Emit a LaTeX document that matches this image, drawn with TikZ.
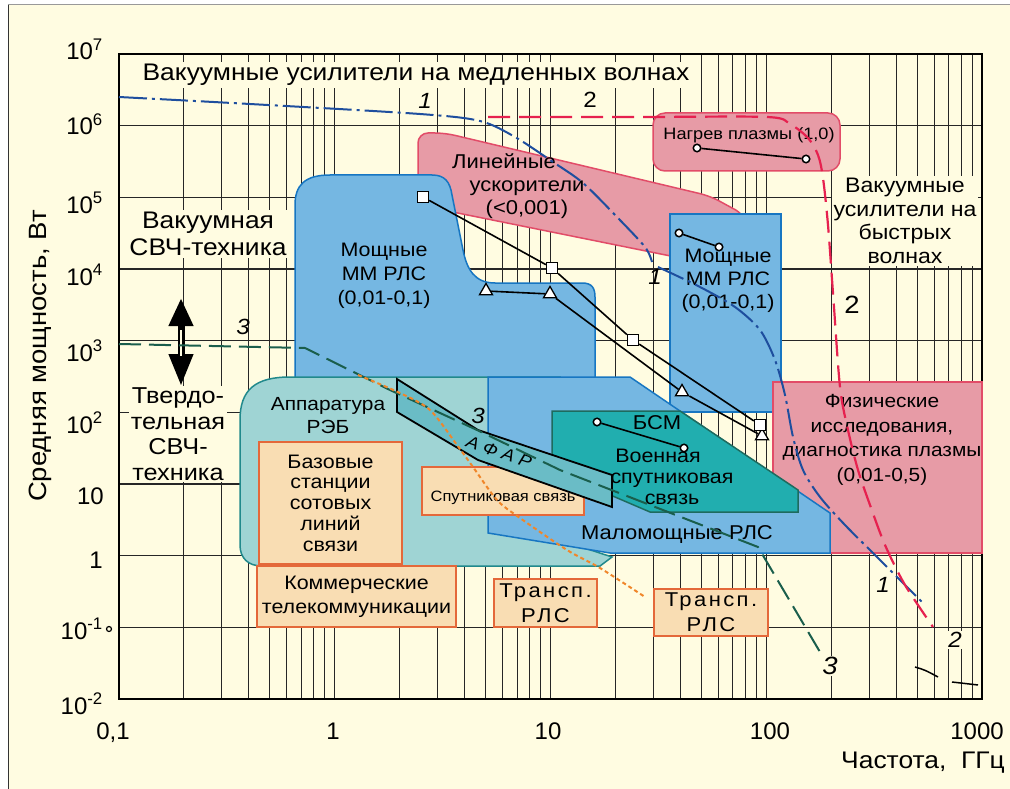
\documentclass[tikz,border=0pt]{standalone}
\usepackage{fontspec}
\setmainfont{Liberation Sans}[FakeStretch=1.1]
\newfontfamily\numfont{Liberation Sans}
\newfontfamily\spacedfont[LetterSpace=12,FakeStretch=1.1]{Liberation Sans}
\usetikzlibrary{arrows.meta,shapes.geometric}

\definecolor{paper}{HTML}{FFFCE1}
\definecolor{pinkfill}{HTML}{E79BA6}
\definecolor{pinkline}{HTML}{E24C68}
\definecolor{bluefill}{HTML}{75B7E2}
\definecolor{blueline}{HTML}{1776C2}
\definecolor{rebfill}{HTML}{9FD4D4}
\definecolor{rebline}{HTML}{21898C}
\definecolor{bsmfill}{HTML}{21AEAF}
\definecolor{bsmline}{HTML}{1E6B5E}
\definecolor{afarfill}{HTML}{6ABCC6}
\definecolor{boxfill}{HTML}{F9DDB3}
\definecolor{boxline}{HTML}{E4683A}
\definecolor{curveone}{HTML}{1E4E9E}
\definecolor{curvetwo}{HTML}{E6214F}
\definecolor{curvethree}{HTML}{1A5E4C}
\definecolor{dotorange}{HTML}{F0862A}

\newcommand\fsz[2]{\fontsize{#1}{#2}\selectfont}

\begin{document}
\begin{tikzpicture}[x=1pt,y=-1pt,
    gridline/.style={black!85,line width=1.1pt},
    ticklab/.style={anchor=base east,font=\numfont\fsz{24}{26},inner sep=0pt},
    flab/.style={anchor=base,font=\numfont\fsz{24}{26},inner sep=0pt},
    note/.style={fill=paper,inner sep=2pt,align=center},
    zonetext/.style={align=center,inner sep=0pt},
    pinkzone/.style={fill=pinkfill,draw=pinkline,line width=1.5pt},
    bluezone/.style={fill=bluefill,draw=blueline,line width=1.5pt},
    tagbox/.style={fill=boxfill,draw=boxline,line width=2pt,align=center,inner sep=0pt},
    sqmark/.style={draw,fill=white,line width=1.3pt,minimum size=11pt,inner sep=0pt},
    trimark/.style={draw,fill=white,line width=1.3pt,regular polygon,regular polygon sides=3,minimum size=15pt,inner sep=0pt},
    dotmark/.style={circle,draw,fill=white,line width=1.5pt,minimum size=7.5pt,inner sep=0pt},
    markline/.style={line width=1.6pt},
    curvelab/.style={font=\fsz{22}{24}\itshape,inner sep=1pt},
  ]
\useasboundingbox (0,0) rectangle (1010,789);
\fill[paper] (8,5) rectangle (1010,789);
\draw[black!40,line width=1pt] (8,5) -- (1010,5);
\draw[black!80,line width=1pt] (8,5) -- (8,789);

% grid
\foreach \d in {0,1,2,3} {
  \foreach \m in {2,...,9}
    \draw[gridline] ({119+215.75*(\d+log10(\m))},54) -- ++(0,645);
  \draw[gridline] ({119+215.75*\d},54) -- ++(0,645);
}
\foreach \k in {1,...,8}
  \draw[gridline] (119,{54+71.67*\k}) -- (982,{54+71.67*\k});
\draw[line width=1.4pt] (119,54) rectangle (982,699);

% zones
\draw[pinkzone,rounded corners=10pt] (418,205) -- (418,133) -- (445,133) -- (710,196) -- (745,215) -- (745,271) -- cycle;
\draw[bluezone] (295,385) -- (295,205) .. controls (295,185) and (305,175) .. (330,175) -- (432,175)
  .. controls (445,175) and (450,182) .. (452,195) -- (463,250) .. controls (467,270) and (475,283) .. (495,283)
  -- (582,283) .. controls (592,283) and (595,288) .. (595,297) -- (595,385) -- cycle;
\draw[fill=rebfill,draw=rebline,line width=1.5pt] (240,420) .. controls (240,390) and (255,377) .. (290,377)
  -- (560,377) -- (560,540) -- (612,557) -- (600,566) -- (262,566) .. controls (248,566) and (240,558) .. (240,545) -- cycle;
\draw[bluezone] (670,214) rectangle (781,412);
\draw[pinkzone] (773,382) rectangle (982,553);
\draw[pinkzone,rounded corners=12pt] (653,113) rectangle (840,171);
\draw[bluezone] (488,377) -- (630,377) -- (830,513) -- (830,553) -- (610,553) -- (488,533) -- cycle;
\draw[fill=bsmfill,draw=bsmline,line width=1.5pt] (552,411) -- (680,411) -- (798,490) -- (798,512) -- (650,512) -- (552,470) -- cycle;

% boxes
\node[tagbox,minimum width=143pt,minimum height=122pt,font=\fsz{19.5}{20.7}] (bbase) at (330.5,503) {Базовые\\станции\\сотовых\\линий\\связи};
\node[tagbox,minimum width=199pt,minimum height=61pt,font=\fsz{19.5}{24}] (bcomm) at (356.5,596.5) {Коммерческие\\телекоммуникации};
\node[tagbox,minimum width=162pt,minimum height=48pt] (bsat) at (503,491) {};
\node[font=\fsz{15}{17},inner sep=0pt] (tsat) at (503,498) {Спутниковая связь};
\draw[fill=afarfill,line width=1.8pt] (397,379) -- (478,430) -- (612,475) -- (612,507) -- (478,460) -- (397,412) -- cycle;
\node[font=\fsz{17}{19}\itshape,rotate=-19,inner sep=0pt] (tafar) at (499,452) {А Ф А Р};
\node[tagbox,minimum width=103pt,minimum height=48pt,font=\spacedfont\fsz{20}{25}] (btr1) at (545.5,603) {Трансп.\\РЛС};
\node[tagbox,minimum width=114pt,minimum height=47pt,font=\spacedfont\fsz{20}{25}] (btr2) at (711,612.5) {Трансп.\\РЛС};

% labels
\node[note,font=\fsz{24}{26}] (tslow) at (416,75) {Вакуумные усилители на медленных волнах};
\node[note,font=\fsz{24}{27}] (tvac) at (208,234) {Вакуумная\\СВЧ-техника};
\node[note,font=\fsz{23}{25.5}] (tsolid) at (178,434) {Твердо-\\тельная\\СВЧ-\\техника};
\node[note,font=\fsz{21}{23.7}] (tfast) at (905,221) {Вакуумные\\усилители на\\быстрых\\волнах};
\node[zonetext,font=\fsz{20}{23}] (tlin) at (527,186) {\hspace*{-46pt}Линейные\\ускорители\\(<0,001)};
\node[zonetext,font=\fsz{19.5}{24}] (tmmw1) at (384,276) {Мощные\\ММ РЛС\\(0,01-0,1)};
\node[zonetext,font=\fsz{19.5}{23}] (tmmw2) at (728,281) {Мощные\\ММ РЛС\\(0,01-0,1)};
\node[zonetext,font=\fsz{16.5}{18}] (theat) at (749,135) {Нагрев плазмы (1,0)};
\node[zonetext,font=\fsz{19}{24.5}] (tphys) at (882,440) {Физические\\исследования,\\диагностика плазмы\\(0,01-0,5)};
\node[zonetext,font=\fsz{20}{22}] (tlow) at (677,535) {Маломощные РЛС};
\node[zonetext,font=\fsz{19}{23}] (treb) at (328,416) {Аппаратура\\РЭБ};
\node[zonetext,font=\fsz{20}{22}] (tbsm) at (657,423) {БСМ};
\node[zonetext,font=\fsz{19.5}{21}] (tmil) at (672,477) {\hspace*{-28pt}Военная\\спутниковая\hspace*{-32pt}\\связь};

% axes
\foreach \e/\yc in {7/51,6/126,5/204,4/276,3/352,2/424}
  \node[ticklab] (ytick\e) at (103,\yc+9) {10\textsuperscript{\e}};
\node[ticklab] (ytickA) at (104,504) {10};
\node[ticklab] (ytickB) at (103,568) {1};
\node[ticklab] (ytickC) at (103,639) {10\textsuperscript{-1}};
\node[ticklab] (ytickD) at (103,714) {10\textsuperscript{-2}};
\node[circle,draw,line width=1.2pt,minimum size=5pt,inner sep=0pt] (tickdot) at (109,629) {};
\foreach \xv/\xt in {113/{0,1},333/1,548/10,770/100,977/1000}
  \node[flab] (xtick\xv) at (\xv,739) {\xt};
\node[anchor=base east,font=\fsz{24}{26},inner sep=0pt] (xname) at (1005,768) {Частота,\ \ ГГц};
\node[rotate=90,font=\fsz{25}{27},inner sep=0pt] (yname) at (40,356) {Средняя мощность, Вт};

% arrow
\coordinate (arrup) at (181,298);
\coordinate (arrmid) at (181,341);
\coordinate (arrdn) at (181,386);
\draw[line width=7pt,-{Triangle[length=28pt,width=23pt]}] (arrmid) -- (arrup);
\draw[line width=7pt,-{Triangle[length=32pt,width=23pt]}] (arrmid) -- (arrdn);
\draw[paper,line width=1.2pt] (181,330) -- (181,356);

% curves
\draw[curveone,line width=2pt,dash pattern=on 28pt off 5pt on 3pt off 5pt] plot[smooth,tension=0.5] coordinates {
  (119,97) (250,104) (420,114) (480,121) (515,137) (553,162) (583,183) (617,217) (645,247) (652,262)};
\draw[curveone,line width=2pt,dash pattern=on 28pt off 5pt on 3pt off 5pt] plot[smooth,tension=0.5] coordinates {
  (658,267) (700,287) (735,307) (760,330) (775,360) (785,395) (793,437) (803,470) (820,497) (845,525) (877,557) (923,603)};
\draw[curvetwo,line width=2.2pt,dash pattern=on 22pt off 9pt] plot[smooth,tension=0.5] coordinates {
  (488,117) (640,117) (767,117) (790,124) (808,138) (818,155) (823,178) (828,225) (833,293) (840,387) (848,430) (858,470) (870,505) (885,545) (905,585) (933,627)};
\draw[curvethree,line width=2pt,dash pattern=on 22pt off 8pt] (119,344) -- (305,348) -- (390,390) -- (477,430) -- (560,470) -- (650,505) -- (758,547) -- (820,652);
\draw[dotorange,line width=2pt,dash pattern=on 4pt off 3pt] plot[smooth,tension=0.5] coordinates {
  (358,375) (400,393) (430,410) (457,445) (473,467) (497,500) (520,518) (567,550) (600,568) (645,597)};
\draw[line width=1.5pt] (915,667) .. controls (925,670) .. (938,677);
\draw[line width=1.5pt] (952,682) -- (978,685);

\node[curvelab,fill=paper] (lone1) at (425,101) {1};
\node[curvelab] (lone2) at (655,277) {1};
\node[curvelab] (lone3) at (883,585) {1};
\node[curvelab,fill=paper,font=\fsz{22}{24}\upshape] (ltwo1) at (590,100) {2};
\node[curvelab,font=\fsz{25}{27}\upshape] (ltwo2) at (852,305) {2};
\node[curvelab,fill=paper] (ltwo3) at (955,640) {2};
\node[curvelab] (lthree1) at (243,327) {3};
\node[curvelab] (lthree2) at (478,416) {3};
\node[curvelab,fill=paper,font=\fsz{25}{27}\itshape] (lthree3) at (830,666) {3};

% markers
\node[trimark] (t1) at (486,291) {};
\node[trimark] (t2) at (550,294) {};
\node[trimark] (t3) at (682,392) {};
\node[trimark] (t4) at (762,436) {};
\draw[markline] (t1) -- (t2) -- (t3) -- (t4);
\node[sqmark] (s1) at (423,197) {};
\node[sqmark] (s2) at (552,268) {};
\node[sqmark] (s3) at (633,340) {};
\node[sqmark] (s4) at (760,425) {};
\draw[markline] (s1) -- (s2) -- (s3) -- (s4);
\node[dotmark] (c1) at (697,148) {};
\node[dotmark] (c2) at (806,159) {};
\node[dotmark] (c3) at (679,233) {};
\node[dotmark] (c4) at (719,247) {};
\node[dotmark] (c5) at (597,422) {};
\node[dotmark] (c6) at (684,448) {};
\draw[markline] (c1) -- (c2);
\draw[markline] (c3) -- (c4);
\draw[markline] (c5) -- (c6);
\end{tikzpicture}
\end{document}
